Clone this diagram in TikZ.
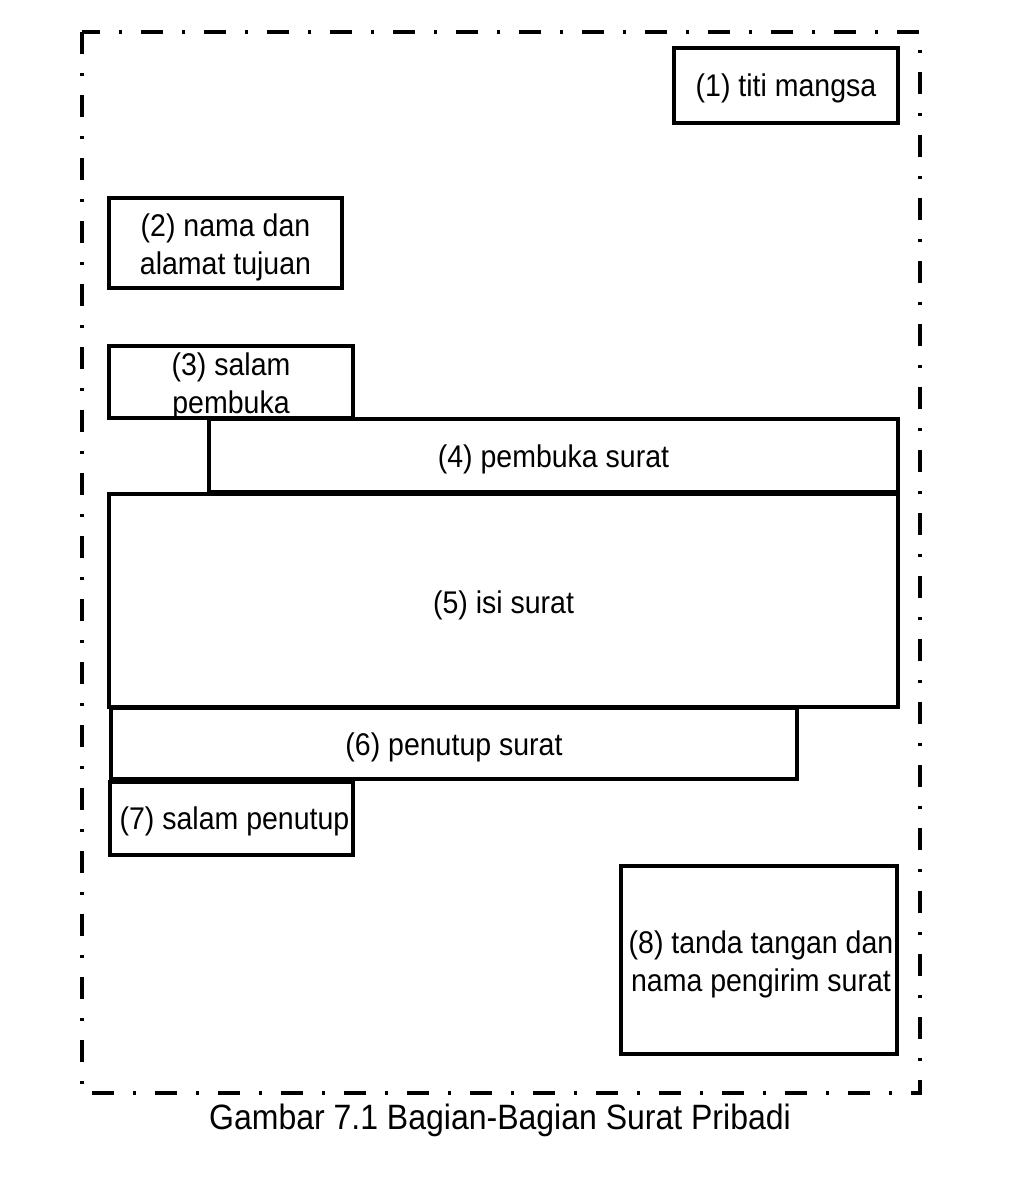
\documentclass[tikz,border=0pt]{standalone}
\usepackage{fontspec}
\setmainfont{Liberation Sans}
\begin{document}
\begin{tikzpicture}[x=1pt,y=-1pt,
  part/.style={draw=black,line width=3.5pt,rectangle,inner sep=0pt},
  lbl/.style={inner sep=0pt,align=center,yscale=1.1,
    font=\fontsize{28.5}{34.5}\selectfont},
  frame/.style={line width=4pt,dash pattern=on 22pt off 19pt on 3pt off 19pt}]
\useasboundingbox (0,0) rectangle (1016,1180);
\fill[white] (0,0) rectangle (1016,1180);
\draw[frame] (82,32) rectangle (920,1093);
\node[part,minimum width=224pt,minimum height=75pt] (n1) at (786,85.5) {};
\node[part,minimum width=233pt,minimum height=90pt] (n2) at (225.5,243) {};
\node[part,minimum width=244pt,minimum height=72pt] (n3) at (231,382) {};
\node[part,minimum width=689pt,minimum height=73pt] (n4) at (553.5,455.5) {};
\node[part,minimum width=789pt,minimum height=213pt] (n5) at (503.5,600.5) {};
\node[part,minimum width=686pt,minimum height=71pt] (n6) at (454,743.5) {};
\node[part,minimum width=243pt,minimum height=73pt] (n7) at (231.5,818.5) {};
\node[part,minimum width=276pt,minimum height=188pt] (n8) at (759,960) {};
\node[lbl] (t1) at ([yshift=-3pt]n1.center) {(1) titi mangsa};
\node[lbl] (t2) at ([yshift=-4pt]n2.center) {(2) nama dan\\alamat tujuan};
\node[lbl] (t3) at ([yshift=-4pt]n3.center) {(3) salam\\pembuka};
\node[lbl] (t4) at ([yshift=-4pt]n4.center) {(4) pembuka surat};
\node[lbl] (t5) at ([yshift=-5pt]n5.center) {(5) isi surat};
\node[lbl] (t6) at ([yshift=-4pt]n6.center) {(6) penutup surat};
\node[lbl] (t7) at ([xshift=3pt,yshift=-3pt]n7.center) {(7) salam penutup};
\node[lbl] (t8) at ([xshift=2pt,yshift=-4pt]n8.center) {(8) tanda tangan dan\\nama pengirim surat};
\node[font=\fontsize{32}{38}\selectfont,yscale=1.1] (cap) at (500,1120) {Gambar 7.1 Bagian-Bagian Surat Pribadi};
\end{tikzpicture}
\end{document}
